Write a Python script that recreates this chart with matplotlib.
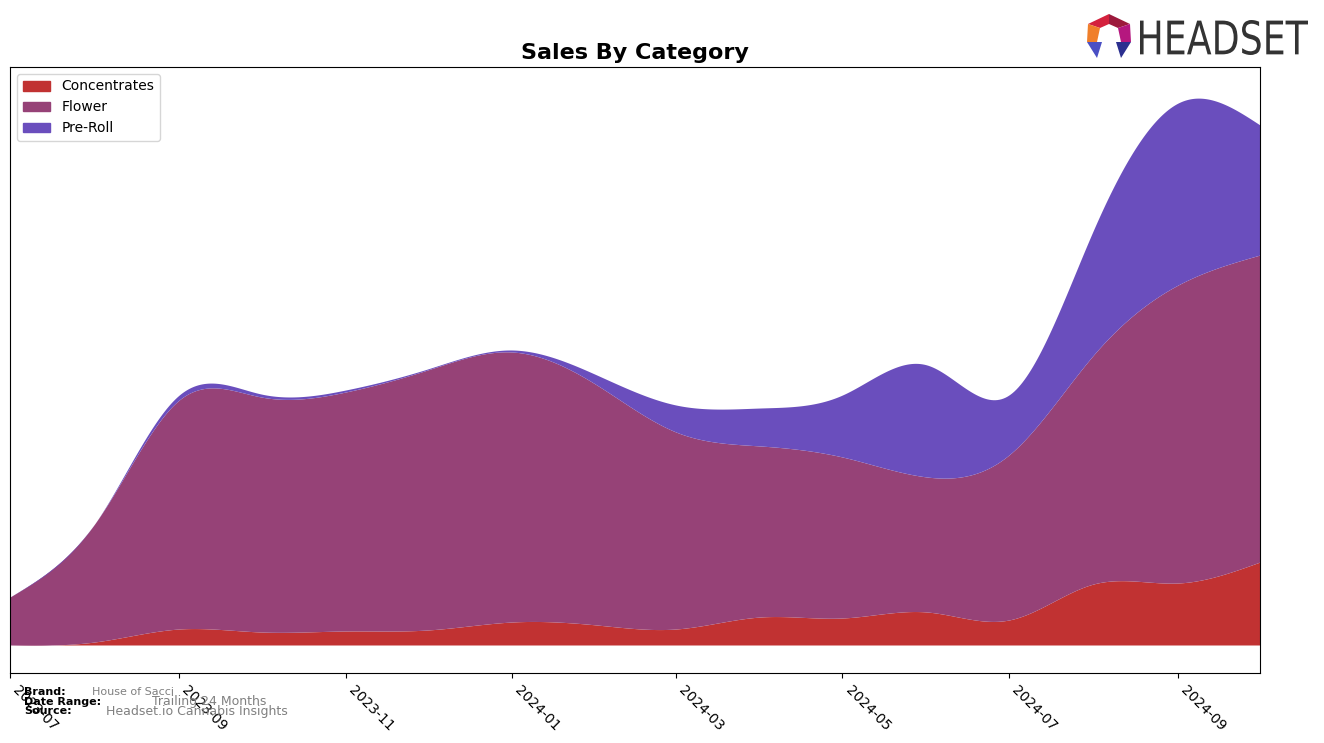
import numpy as np
import pandas as pd
import matplotlib
matplotlib.use('Agg')
import matplotlib.pyplot as plt
import matplotlib.dates as mdates
from matplotlib.patches import Patch, Polygon, PathPatch
from matplotlib.textpath import TextPath
from matplotlib.font_manager import FontProperties
from matplotlib.transforms import Affine2D, IdentityTransform

months = pd.date_range('2023-07-01', '2024-10-01', freq='MS')
concentrates = [0, 3, 16, 13, 14, 15, 23, 20, 16, 28, 27, 33, 25, 61, 62, 83]
flower = [48, 118, 229, 235, 239, 260, 270, 240, 197, 171, 161, 135, 165, 229, 298, 307]
preroll = [0, 0, 5, 3, 2, 1, 2, 10, 27, 38, 62, 112, 60, 125, 182, 130]
labels = ['Concentrates', 'Flower', 'Pre-Roll']
colors = ['#c13232', '#964277', '#6a4ebd']


def spline(x, y, xs):
    # natural cubic spline
    x = np.asarray(x, float)
    y = np.asarray(y, float)
    n = len(x)
    h = np.diff(x)
    A = np.zeros((n, n))
    b = np.zeros(n)
    A[0, 0] = 1
    A[-1, -1] = 1
    for i in range(1, n - 1):
        A[i, i - 1] = h[i - 1]
        A[i, i] = 2 * (h[i - 1] + h[i])
        A[i, i + 1] = h[i]
        b[i] = 3 * ((y[i + 1] - y[i]) / h[i] - (y[i] - y[i - 1]) / h[i - 1])
    c = np.linalg.solve(A, b)
    bb = (y[1:] - y[:-1]) / h - h * (2 * c[:-1] + c[1:]) / 3
    d = (c[1:] - c[:-1]) / (3 * h)
    idx = np.clip(np.searchsorted(x, xs) - 1, 0, n - 2)
    t = xs - x[idx]
    return y[idx] + bb[idx] * t + c[idx] * t ** 2 + d[idx] * t ** 3


xnum = mdates.date2num(months)
xs = np.linspace(xnum[0], xnum[-1], 600)
curves = [spline(xnum, s, xs) for s in (concentrates, flower, preroll)]

fig = plt.figure(figsize=(13.24, 7.43), dpi=100)
ax = fig.add_axes([10 / 1324, 1 - 673 / 743, 1250 / 1324, 606 / 743])

base = np.zeros_like(xs)
for cv, col in zip(curves, colors):
    ax.fill_between(xs, base, base + cv, color=col, linewidth=0)
    base = base + cv

ax.set_xlim(xnum[0], xnum[-1])
ax.set_ylim(-28, 578)
ax.set_yticks([])
ax.xaxis.set_major_locator(mdates.MonthLocator(bymonth=[1, 3, 5, 7, 9, 11]))
ax.xaxis.set_major_formatter(mdates.DateFormatter('%Y-%m'))
plt.setp(ax.get_xticklabels(), rotation=-45, ha='left', fontsize=10)
ax.set_title('Sales By Category', fontsize=16, fontweight='bold')

handles = [Patch(color=c, label=l) for c, l in zip(colors, labels)]
ax.legend(handles=handles, loc='upper left', fontsize=10)

# footer
fig.text(24 / 1324, 1 - 692 / 743, 'Brand:', fontsize=8, fontweight='bold', va='center')
fig.text(24 / 1324, 1 - 702 / 743, 'Date Range:', fontsize=8, fontweight='bold', va='center')
fig.text(24 / 1324, 1 - 711 / 743, 'Source:', fontsize=8, fontweight='bold', va='center')
fig.text(92 / 1324, 1 - 692 / 743, 'House of Sacci', fontsize=8, color='gray', va='center')
fig.text(152 / 1324, 1 - 702 / 743, 'Trailing 24 Months', fontsize=9, color='gray', va='center')
fig.text(106 / 1324, 1 - 711 / 743, 'Headset.io Cannabis Insights', fontsize=9, color='gray', va='center')

# logo
H = 743
tp = TextPath((0, 0), 'HEADSET', size=50, prop=FontProperties(family='DejaVu Sans'))
ext = tp.get_extents()
sx = 168 / ext.width
sy = 35 / ext.height
tr = Affine2D().translate(-ext.x0, -ext.y0).scale(sx, sy).translate(1140, H - 55)
fig.patches.append(PathPatch(tr.transform_path(tp), color='#333333', lw=0, transform=IdentityTransform()))


def poly(pts, col):
    fig.patches.append(Polygon([(px, H - py) for px, py in pts], closed=True, color=col,
                               lw=0, transform=IdentityTransform()))


poly([(1109, 14), (1130, 24), (1118, 28), (1109, 24)], '#9c1a3c')
poly([(1109, 14), (1109, 24), (1100, 28), (1088, 24)], '#d4213d')
poly([(1088, 24), (1100, 28), (1097, 42), (1087, 42)], '#f07f2a')
poly([(1130, 24), (1131, 42), (1121, 42), (1118, 28)], '#b5177f')
poly([(1087, 42), (1102, 42), (1097, 58)], '#4a4fc4')
poly([(1116, 42), (1131, 42), (1121, 58)], '#2b2f8f')

fig.savefig('out.png', dpi=100)
